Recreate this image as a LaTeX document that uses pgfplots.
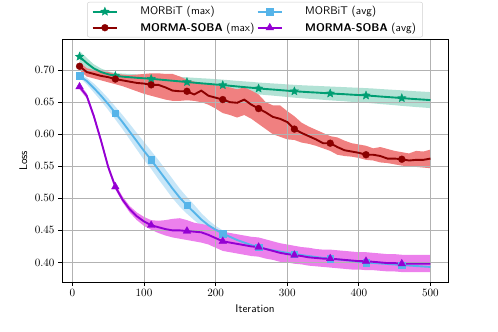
\documentclass[border=0pt]{standalone}
\usepackage{pgfplots}
\usepackage{pgfplotstable}
\pgfplotsset{compat=1.18}
\usepgfplotslibrary{fillbetween}

\definecolor{cgreen}{RGB}{0,158,115}
\definecolor{cblue}{RGB}{86,180,233}
\definecolor{cred}{RGB}{139,0,0}
\definecolor{credfill}{RGB}{240,128,128}
\definecolor{cviolet}{RGB}{148,0,211}
\definecolor{cvioletfill}{RGB}{236,128,236}

% filled five-pointed star
\pgfdeclareplotmark{fstar}{%
  \pgfpathmoveto{\pgfpointpolar{90}{\pgfplotmarksize}}%
  \pgfpathlineto{\pgfpointpolar{126}{0.45\pgfplotmarksize}}%
  \pgfpathlineto{\pgfpointpolar{162}{\pgfplotmarksize}}%
  \pgfpathlineto{\pgfpointpolar{198}{0.45\pgfplotmarksize}}%
  \pgfpathlineto{\pgfpointpolar{234}{\pgfplotmarksize}}%
  \pgfpathlineto{\pgfpointpolar{270}{0.45\pgfplotmarksize}}%
  \pgfpathlineto{\pgfpointpolar{306}{\pgfplotmarksize}}%
  \pgfpathlineto{\pgfpointpolar{342}{0.45\pgfplotmarksize}}%
  \pgfpathlineto{\pgfpointpolar{18}{\pgfplotmarksize}}%
  \pgfpathlineto{\pgfpointpolar{54}{0.45\pgfplotmarksize}}%
  \pgfpathclose
  \pgfusepathqfillstroke}

% MORBiT (max)
\pgfplotstableread{
x m lo hi
10 0.7210 0.7120 0.7300
20 0.7110 0.7030 0.7190
30 0.7025 0.6960 0.7090
40 0.6970 0.6915 0.7025
50 0.6935 0.6888 0.6982
60 0.6910 0.6865 0.6955
70 0.6898 0.6850 0.6946
80 0.6889 0.6838 0.6940
90 0.6880 0.6826 0.6934
100 0.6872 0.6815 0.6929
110 0.6864 0.6804 0.6924
120 0.6854 0.6791 0.6917
130 0.6844 0.6779 0.6909
140 0.6834 0.6766 0.6902
150 0.6824 0.6754 0.6894
160 0.6814 0.6741 0.6887
170 0.6804 0.6728 0.6880
180 0.6794 0.6715 0.6873
190 0.6785 0.6703 0.6867
200 0.6775 0.6691 0.6859
210 0.6766 0.6681 0.6851
220 0.6756 0.6670 0.6842
230 0.6745 0.6658 0.6832
240 0.6735 0.6646 0.6824
250 0.6725 0.6634 0.6816
260 0.6714 0.6622 0.6806
270 0.6705 0.6611 0.6799
280 0.6697 0.6602 0.6792
290 0.6688 0.6591 0.6785
300 0.6679 0.6581 0.6777
310 0.6670 0.6570 0.6770
320 0.6663 0.6562 0.6764
330 0.6656 0.6553 0.6759
340 0.6650 0.6546 0.6754
350 0.6643 0.6537 0.6749
360 0.6636 0.6528 0.6744
370 0.6630 0.6521 0.6739
380 0.6624 0.6514 0.6734
390 0.6617 0.6505 0.6729
400 0.6611 0.6498 0.6724
410 0.6605 0.6491 0.6719
420 0.6597 0.6481 0.6713
430 0.6588 0.6471 0.6705
440 0.6580 0.6462 0.6698
450 0.6572 0.6453 0.6691
460 0.6563 0.6442 0.6684
470 0.6555 0.6433 0.6677
480 0.6547 0.6424 0.6670
490 0.6540 0.6416 0.6664
500 0.6532 0.6407 0.6657
}\morbitmax

% MORMA-SOBA (max)
\pgfplotstableread{
x m lo hi
10 0.706 0.700 0.712
20 0.697 0.690 0.703
30 0.694 0.687 0.700
40 0.691 0.684 0.698
50 0.689 0.681 0.697
60 0.686 0.678 0.694
70 0.684 0.675 0.693
80 0.682 0.671 0.692
90 0.680 0.667 0.693
100 0.679 0.663 0.694
110 0.677 0.660 0.695
120 0.677 0.657 0.695
130 0.673 0.654 0.694
140 0.668 0.652 0.694
150 0.667 0.652 0.690
160 0.667 0.653 0.685
170 0.662 0.652 0.682
180 0.668 0.650 0.680
190 0.660 0.646 0.678
200 0.657 0.640 0.676
210 0.654 0.633 0.675
220 0.650 0.630 0.673
230 0.649 0.626 0.670
240 0.654 0.630 0.673
250 0.646 0.624 0.668
260 0.640 0.616 0.662
270 0.634 0.608 0.650
280 0.627 0.600 0.645
290 0.624 0.596 0.645
300 0.619 0.592 0.636
310 0.608 0.591 0.628
320 0.602 0.587 0.618
330 0.597 0.585 0.612
340 0.592 0.582 0.607
350 0.586 0.578 0.602
360 0.586 0.574 0.597
370 0.580 0.568 0.595
380 0.575 0.566 0.590
390 0.573 0.565 0.586
400 0.571 0.563 0.584
410 0.568 0.560 0.582
420 0.568 0.559 0.578
430 0.566 0.556 0.580
440 0.562 0.555 0.577
450 0.562 0.553 0.574
460 0.561 0.551 0.572
470 0.559 0.550 0.570
480 0.560 0.549 0.574
490 0.560 0.548 0.573
500 0.562 0.547 0.576
}\mormamax

% MORBiT (avg)
\pgfplotstableread{
x m lo hi
10 0.691 0.688 0.694
20 0.683 0.678 0.688
30 0.672 0.665 0.679
40 0.660 0.652 0.668
50 0.647 0.638 0.656
60 0.633 0.623 0.643
70 0.619 0.608 0.630
80 0.604 0.592 0.616
90 0.589 0.576 0.602
100 0.574 0.560 0.588
110 0.560 0.546 0.574
120 0.545 0.530 0.560
130 0.530 0.515 0.545
140 0.515 0.500 0.530
150 0.501 0.487 0.515
160 0.489 0.476 0.502
170 0.478 0.466 0.490
180 0.467 0.457 0.477
190 0.458 0.450 0.466
200 0.451 0.445 0.457
210 0.445 0.440 0.450
220 0.440 0.436 0.444
230 0.435 0.431 0.439
240 0.431 0.427 0.435
250 0.427 0.423 0.431
260 0.424 0.4205 0.4275
270 0.421 0.4175 0.4245
280 0.419 0.4155 0.4225
290 0.417 0.4135 0.4205
300 0.415 0.412 0.418
310 0.413 0.410 0.416
320 0.4115 0.4085 0.4145
330 0.410 0.407 0.413
340 0.4085 0.4055 0.4115
350 0.407 0.404 0.410
360 0.406 0.403 0.409
370 0.4048 0.4018 0.4078
380 0.4036 0.4006 0.4066
390 0.4024 0.3994 0.4054
400 0.4012 0.3982 0.4042
410 0.4000 0.3970 0.4030
420 0.3992 0.3962 0.4022
430 0.3984 0.3954 0.4014
440 0.3976 0.3946 0.4006
450 0.3968 0.3938 0.3998
460 0.3960 0.3930 0.3990
470 0.3952 0.3922 0.3982
480 0.3944 0.3914 0.3974
490 0.3937 0.3907 0.3967
500 0.3930 0.3900 0.3960
}\morbitavg

% MORMA-SOBA (avg)
\pgfplotstableread{
x m lo hi
10 0.674 0.670 0.678
20 0.660 0.656 0.664
30 0.628 0.624 0.632
40 0.590 0.586 0.594
50 0.549 0.545 0.553
60 0.518 0.514 0.522
70 0.498 0.494 0.503
80 0.483 0.478 0.488
90 0.472 0.466 0.478
100 0.464 0.457 0.471
110 0.458 0.451 0.466
120 0.455 0.446 0.465
130 0.452 0.442 0.466
140 0.450 0.439 0.468
150 0.450 0.437 0.469
160 0.449 0.435 0.466
170 0.448 0.433 0.462
180 0.447 0.431 0.460
190 0.443 0.428 0.458
200 0.438 0.423 0.453
210 0.433 0.418 0.448
220 0.431 0.416 0.446
230 0.429 0.414 0.444
240 0.427 0.412 0.442
250 0.425 0.410 0.440
260 0.424 0.409 0.439
270 0.421 0.406 0.436
280 0.418 0.404 0.433
290 0.415 0.401 0.430
300 0.413 0.400 0.428
310 0.4115 0.398 0.426
320 0.410 0.397 0.424
330 0.408 0.395 0.423
340 0.407 0.394 0.421
350 0.406 0.393 0.420
360 0.406 0.392 0.420
370 0.405 0.391 0.419
380 0.404 0.390 0.418
390 0.403 0.389 0.417
400 0.402 0.389 0.416
410 0.402 0.388 0.416
420 0.401 0.388 0.415
430 0.400 0.387 0.414
440 0.399 0.386 0.413
450 0.399 0.386 0.413
460 0.398 0.385 0.412
470 0.398 0.385 0.412
480 0.398 0.385 0.412
490 0.398 0.385 0.412
500 0.398 0.385 0.412
}\mormaavg

\begin{document}
\begin{tikzpicture}
\begin{axis}[
    set layers,
    scale only axis,
    width=347.4pt, height=218.7pt,
    xmin=-14.5, xmax=524.5,
    ymin=0.369, ymax=0.748,
    xtick={0,100,...,500},
    ytick={0.40,0.45,0.50,0.55,0.60,0.65,0.70},
    yticklabel style={/pgf/number format/fixed, /pgf/number format/fixed zerofill, /pgf/number format/precision=2},
    scaled y ticks=false,
    tick align=outside, tick pos=left,
    major tick length=3.2pt,
    every tick/.style={black, line width=0.7pt},
    axis line style={black, line width=0.75pt},
    grid=major,
    grid style={gray!60, line width=0.75pt},
    xlabel={\sffamily Iteration},
    ylabel={\sffamily Loss},
    legend columns=2,
    legend cell align=left,
    legend style={at={(0.5,1.008)}, anchor=south, draw=black!18, rounded corners=2pt,
      font=\sffamily, row sep=1.5pt, inner xsep=4pt, inner ysep=2pt,
      /tikz/every odd column/.append style={column sep=18pt}},
    legend image code/.code={
      \draw[mark repeat=2, mark phase=2] plot coordinates {(0pt,0pt) (11pt,0pt) (22pt,0pt)};
    },
    mark repeat=5, mark phase=1,
]
% bands, kept below the grid
\addplot[draw=none, name path=glo, forget plot] table[x=x, y=lo]{\morbitmax};
\addplot[draw=none, name path=ghi, forget plot] table[x=x, y=hi]{\morbitmax};
\addplot[fill=cgreen, fill opacity=0.3, draw=none, forget plot] fill between[of=glo and ghi, on layer=axis background];
\addplot[draw=none, name path=rlo, forget plot] table[x=x, y=lo]{\mormamax};
\addplot[draw=none, name path=rhi, forget plot] table[x=x, y=hi]{\mormamax};
\addplot[fill=credfill, draw=none, forget plot] fill between[of=rlo and rhi, on layer=axis background];
\addplot[draw=none, name path=blo, forget plot] table[x=x, y=lo]{\morbitavg};
\addplot[draw=none, name path=bhi, forget plot] table[x=x, y=hi]{\morbitavg};
\addplot[fill=cblue, fill opacity=0.33, draw=none, forget plot] fill between[of=blo and bhi, on layer=axis background];
\addplot[draw=none, name path=vlo, forget plot] table[x=x, y=lo]{\mormaavg};
\addplot[draw=none, name path=vhi, forget plot] table[x=x, y=hi]{\mormaavg};
\addplot[fill=cvioletfill, draw=none, forget plot] fill between[of=vlo and vhi, on layer=axis background];
% lines
\addplot[cgreen, line width=1.7pt, mark=fstar, mark size=4pt, mark options={solid, line width=0.3pt}]
  table[x=x, y=m]{\morbitmax};
\addlegendentry{MORBiT (max)}
\addplot[cblue, line width=1.7pt, mark=square*, mark size=2.9pt, mark options={solid, line width=0.3pt}]
  table[x=x, y=m]{\morbitavg};
\addlegendentry{MORBiT (avg)}
\addplot[cred, line width=1.7pt, mark=*, mark size=3.1pt, mark options={solid, line width=0.3pt}]
  table[x=x, y=m]{\mormamax};
\addlegendentry{\textbf{MORMA-SOBA} (max)}
\addplot[cviolet, line width=1.7pt, mark=triangle*, mark size=4pt, mark options={solid, line width=0.3pt}]
  table[x=x, y=m]{\mormaavg};
\addlegendentry{\textbf{MORMA-SOBA} (avg)}
\end{axis}
\pgfresetboundingbox
\useasboundingbox (-55.8pt,-44.7pt) rectangle (392.4pt,254.1pt);
\end{tikzpicture}
\end{document}
